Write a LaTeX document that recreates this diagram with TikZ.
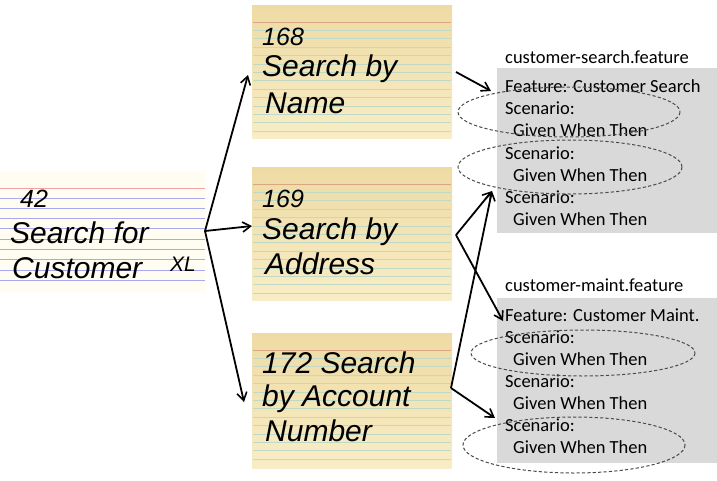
\documentclass[tikz,border=0pt]{standalone}
\usepackage{fontspec}
\setmainfont{Carlito}
\newfontfamily\handfont{Liberation Sans}
\usetikzlibrary{arrows.meta}
\definecolor{cardtop}{HTML}{EEDBA4}
\definecolor{cardbot}{HTML}{F8EDC6}
\definecolor{cardline}{HTML}{BFD9C6}
\definecolor{cardhead}{HTML}{D9A584}
\definecolor{oldfill}{HTML}{FFFDF1}
\definecolor{oldred}{HTML}{F4A3A3}
\definecolor{oldblue}{HTML}{A9A9F2}
\definecolor{boxgray}{HTML}{D9D9D9}
\definecolor{dashgray}{HTML}{4A4A4A}
\tikzset{
  yellowcard/.style={draw=none, top color=cardtop, bottom color=cardbot,
     minimum width=200pt, inner sep=0pt, anchor=north west},
  oldcard/.style={draw=none, fill=oldfill, minimum width=205pt, minimum height=120pt, inner sep=0pt, anchor=north west},
  ruled/.style={draw=cardline, line width=0.8pt},
  hand/.style={font=\handfont\itshape\fontsize{30}{30}\selectfont, anchor=base west, inner sep=0pt},
  handnum/.style={font=\handfont\itshape\fontsize{25}{25}\selectfont, anchor=base west, inner sep=0pt},
  handsmall/.style={font=\handfont\itshape\fontsize{21}{21}\selectfont, anchor=base west, inner sep=0pt},
  featbox/.style={draw=none, fill=boxgray, minimum width=220pt, minimum height=165pt, inner sep=0pt, anchor=north west},
  ftext/.style={font=\fontsize{18.5}{22}\selectfont, anchor=base west, inner sep=0pt},
  scen/.style={draw=dashgray, line width=1pt, dash pattern=on 3.2pt off 2.2pt},
  link/.style={line width=1.8pt, -{Straight Barb[length=8pt,width=10pt,line width=1.6pt]}}
}
\begin{document}
\begin{tikzpicture}[x=1pt,y=-1pt]
\useasboundingbox (0,0) rectangle (717,480);

% ---- story card 42 ----
\node[oldcard] (c42) at (0,172) {};
\draw[oldred, line width=1pt] (0,188) -- (205,188);
\foreach \k in {0,...,8} \draw[oldblue, line width=1pt] (0,{198+10.3*\k}) -- (205,{198+10.3*\k});
\node[handnum] (t42a) at (20,207) {42};
\node[hand] (t42b) at (10,243) {Search for};
\node[hand] (t42c) at (12,278) {Customer};
\node[handsmall] (t42d) at (170,271) {XL};

% ---- yellow cards ----
\node[yellowcard, minimum height=133pt] (c168) at (252,5) {};
\node[yellowcard, minimum height=133pt] (c169) at (252,167) {};
\node[yellowcard, minimum height=135pt] (c172) at (252,333) {};
\foreach \ty in {5,167,333}{
  \draw[cardhead, line width=0.8pt] (253,\ty+17) -- (451,\ty+17);
  \foreach \k in {1,...,13} \draw[ruled] (253,{\ty+17+8.4*\k}) -- (451,{\ty+17+8.4*\k});
}
\node[handnum] (t168a) at (262,45) {168};
\node[hand] (t168b) at (262,76) {Search by};
\node[hand] (t168c) at (265,113) {Name};
\node[handnum] (t169a) at (262,207) {169};
\node[hand] (t169b) at (262,239) {Search by};
\node[hand] (t169c) at (265,274) {Address};
\node[hand] (t172a) at (262,373) {172 Search};
\node[hand] (t172b) at (262,406) {by Account};
\node[hand] (t172c) at (265,441) {Number};

% ---- feature files ----
\node[ftext] (f1title) at (505,63) {customer-search.feature};
\node[featbox] (f1) at (497,68) {};
\node[ftext] (f1a) at (505,92) {Feature: Customer Search};
\node[ftext] (f1b) at (505,114) {Scenario:};
\node[ftext] (f1c) at (513,136) {Given When Then};
\node[ftext] (f1d) at (505,159) {Scenario:};
\node[ftext] (f1e) at (513,181) {Given When Then};
\node[ftext] (f1f) at (505,203) {Scenario:};
\node[ftext] (f1g) at (513,225) {Given When Then};

\node[ftext] (f2title) at (505,291) {customer-maint.feature};
\node[featbox] (f2) at (497,298) {};
\node[ftext] (f2a) at (505,321) {Feature: Customer Maint.};
\node[ftext] (f2b) at (505,343) {Scenario:};
\node[ftext] (f2c) at (513,365) {Given When Then};
\node[ftext] (f2d) at (505,387) {Scenario:};
\node[ftext] (f2e) at (513,409) {Given When Then};
\node[ftext] (f2f) at (505,431) {Scenario:};
\node[ftext] (f2g) at (513,453) {Given When Then};

% ---- scenario ellipses ----
\draw[scen] (569,112) ellipse [x radius=111, y radius=25];
\draw[scen] (570,167) ellipse [x radius=112, y radius=27];
\draw[scen] (583,353) ellipse [x radius=112, y radius=23];
\draw[scen] (574,445) ellipse [x radius=111, y radius=28];

% ---- connector points ----
\coordinate (p42) at (205,231);
\coordinate (in168) at (248,75);
\coordinate (in169) at (252,226);
\coordinate (in172) at (244,402);
\coordinate (out168) at (456,72);
\coordinate (out169) at (456,235);
\coordinate (out172) at (451,388);
\coordinate (sc1) at (491,91);
\coordinate (sc2) at (492,191);
\coordinate (sc3) at (503,321);
\coordinate (sc4) at (495,418);

\draw[link] (p42) -- (in168);
\draw[link] (p42) -- (in169);
\draw[link] (p42) -- (in172);
\draw[link] (out168) -- (sc1);
\draw[link] (out169) -- (sc2);
\draw[link] (out169) -- (sc3);
\draw[link] (out172) -- (sc2);
\draw[link] (out172) -- (sc4);
\end{tikzpicture}
\end{document}
